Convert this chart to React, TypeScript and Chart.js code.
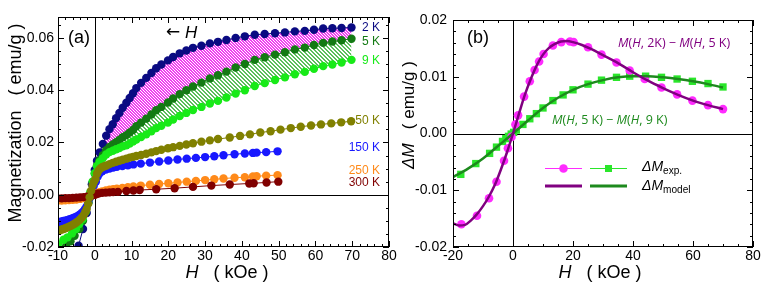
import React, { useEffect, useRef } from "react";
import { Chart, registerables } from "chart.js";
Chart.register(...registerables);

const FONT = "'Liberation Sans', Arial, sans-serif";
const FONT_B = "'Open Sans', 'Liberation Sans', sans-serif";

// ---------- Panel (a): M(H) curves ----------
const H_2K = [-4.4, -3.2, -2.2, -1.5, -0.8, 0, 0.6, 1.3, 2.2, 3.1, 4.0, 4.9, 5.8, 6.7, 7.6, 8.6, 9.5, 10.4, 11.3, 12.6, 14.0, 15.4, 16.7, 18.1, 19.9, 21.3, 23.1, 24.9, 26.7, 29.0, 31.3, 33.5, 35.8, 38.3, 40.8, 43.5, 46.2, 49.0, 51.7, 54.4, 57.1, 59.6, 62.1, 64.6, 67.1, 69.8];
const M_2K = [-0.0195, -0.0131, -0.0070, -0.0015, 0.0040, 0.0095, 0.0130, 0.0162, 0.0194, 0.0226, 0.0251, 0.0270, 0.0293, 0.0313, 0.0333, 0.0352, 0.0370, 0.0388, 0.0408, 0.0428, 0.0447, 0.0466, 0.0484, 0.0498, 0.0514, 0.0527, 0.0541, 0.0552, 0.0562, 0.0570, 0.0579, 0.0585, 0.0592, 0.0600, 0.0606, 0.0612, 0.0615, 0.0618, 0.0621, 0.0625, 0.0627, 0.0631, 0.0636, 0.0637, 0.0638, 0.0640];

const H_5K = [-7.8, -6.6, -5.5, -4.2, -3.2, -2.4, -1.7, -1.1, -0.5, 0, 0.6, 1.3, 2.2, 3.1, 4.0, 4.9, 5.8, 6.7, 7.6, 8.6, 9.5, 10.4, 11.3, 12.6, 14.0, 15.4, 16.7, 18.1, 19.9, 21.3, 23.1, 24.9, 26.7, 29.0, 31.3, 33.5, 35.8, 38.3, 40.8, 43.5, 46.2, 49.0, 51.7, 54.4, 57.1, 59.6, 62.1, 64.6, 67.1, 69.8];
const M_5K = [-0.0197, -0.0178, -0.0157, -0.0131, -0.0100, -0.0065, -0.0030, 0.0010, 0.0050, 0.0080, 0.0112, 0.0132, 0.0151, 0.0170, 0.0183, 0.0192, 0.0201, 0.0210, 0.0220, 0.0228, 0.0238, 0.0248, 0.0262, 0.0276, 0.0291, 0.0307, 0.0323, 0.0336, 0.0353, 0.0368, 0.0385, 0.0400, 0.0414, 0.0429, 0.0445, 0.0457, 0.0471, 0.0487, 0.0500, 0.0516, 0.0526, 0.0536, 0.0545, 0.0556, 0.0563, 0.0573, 0.0581, 0.0586, 0.0591, 0.0597];

const H_9K = [-10.0, -8.5, -7.4, -6.2, -5.1, -4.2, -3.3, -2.5, -1.8, -1.2, -0.6, 0, 0.6, 1.3, 2.2, 3.1, 4.0, 4.9, 5.8, 6.7, 7.6, 8.6, 9.5, 10.4, 11.3, 12.6, 14.0, 15.4, 16.7, 18.1, 19.9, 21.3, 23.1, 24.9, 26.7, 29.0, 31.3, 33.5, 35.8, 38.3, 40.8, 43.5, 46.2, 49.0, 51.7, 54.4, 57.1, 59.6, 62.1, 64.6, 67.1, 69.8];
const M_9K = [-0.0189, -0.0172, -0.0163, -0.0148, -0.0131, -0.0112, -0.0093, -0.0065, -0.0030, 0.0010, 0.0050, 0.0082, 0.0109, 0.0125, 0.0140, 0.0154, 0.0163, 0.0168, 0.0174, 0.0179, 0.0185, 0.0189, 0.0196, 0.0204, 0.0211, 0.0221, 0.0231, 0.0243, 0.0255, 0.0264, 0.0276, 0.0288, 0.0301, 0.0313, 0.0324, 0.0336, 0.0349, 0.0359, 0.0372, 0.0387, 0.0400, 0.0416, 0.0427, 0.0439, 0.0449, 0.0461, 0.0470, 0.0482, 0.0492, 0.0498, 0.0506, 0.0516];

const H_50K = [-10.1, -9.5, -9.0, -8.5, -8.0, -7.5, -7.0, -6.5, -6.0, -5.5, -5.0, -4.5, -4.0, -3.5, -3.0, -2.6, -2.2, -1.8, -1.4, -1.0, -0.6, -0.2, 0.2, 0.6, 1.0, 1.5, 2.0, 2.6, 3.2, 4.0, 4.9, 5.8, 6.7, 7.6, 8.6, 9.5, 10.4, 11.3, 12.6, 14.0, 15.4, 16.7, 18.1, 19.9, 21.3, 23.1, 24.9, 26.7, 29.0, 31.3, 33.5, 36.7, 39.5, 42.2, 45.0, 47.8, 50.5, 53.3, 56.0, 58.8, 61.5, 64.3, 67.0, 69.7];
const M_50K = [-0.0138, -0.0136, -0.0133, -0.0131, -0.0128, -0.0125, -0.0122, -0.0119, -0.0115, -0.0111, -0.0106, -0.0101, -0.0095, -0.0087, -0.0078, -0.0067, -0.0055, -0.0035, -0.0010, 0.0015, 0.0035, 0.0050, 0.0060, 0.0080, 0.0092, 0.0100, 0.0105, 0.0109, 0.0112, 0.0117, 0.0122, 0.0126, 0.0130, 0.0134, 0.0138, 0.0142, 0.0145, 0.0148, 0.0152, 0.0157, 0.0162, 0.0167, 0.0172, 0.0178, 0.0182, 0.0187, 0.0192, 0.0197, 0.0203, 0.0208, 0.0213, 0.0219, 0.0225, 0.0231, 0.0238, 0.0243, 0.0249, 0.0255, 0.0260, 0.0265, 0.0269, 0.0273, 0.0277, 0.0281];

const H_150K = [-10.1, -9.5, -9.0, -8.5, -8.0, -7.5, -7.0, -6.5, -6.0, -5.5, -5.0, -4.5, -4.0, -3.5, -3.0, -2.6, -2.2, -1.8, -1.3, -0.8, -0.3, 0.3, 0.8, 1.3, 2.0, 3.0, 4.0, 5.0, 6.0, 7.5, 9.0, 10.5, 12.5, 15.0, 17.5, 20.0, 22.5, 25.0, 27.5, 30.0, 32.5, 35.0, 38.0, 40.8, 43.0, 44.0, 46.6, 49.7];
const M_150K = [-0.0105, -0.0104, -0.0102, -0.0100, -0.0099, -0.0097, -0.0095, -0.0093, -0.0090, -0.0087, -0.0084, -0.0080, -0.0075, -0.0069, -0.0062, -0.0054, -0.0045, -0.0030, -0.0010, 0.0012, 0.0033, 0.0050, 0.0070, 0.0082, 0.0090, 0.0096, 0.0100, 0.0104, 0.0107, 0.0110, 0.0113, 0.0116, 0.0119, 0.0123, 0.0127, 0.0131, 0.0135, 0.0138, 0.0141, 0.0144, 0.0147, 0.0151, 0.0155, 0.0158, 0.0160, 0.0161, 0.0163, 0.0166];

const H_250K = [-10.1, -9.0, -8.0, -7.0, -6.0, -5.0, -4.0, -3.0, -2.0, -1.0, -0.3, 0.3, 0.8, 1.3, 2.0, 3.0, 4.0, 5.0, 6.0, 7.5, 9.0, 10.5, 12.5, 15.0, 17.5, 20.0, 22.5, 25.0, 27.5, 30.0, 32.5, 35.0, 38.0, 40.8, 43.0, 44.0, 46.6, 49.7];
const M_250K = [-0.0023, -0.0022, -0.0021, -0.0020, -0.0019, -0.0018, -0.0016, -0.0013, -0.0009, -0.0004, 0.0000, 0.0003, 0.0007, 0.0010, 0.0013, 0.0016, 0.0019, 0.0021, 0.0023, 0.0026, 0.0029, 0.0032, 0.0035, 0.0038, 0.0041, 0.0044, 0.0047, 0.0050, 0.0053, 0.0056, 0.0059, 0.0062, 0.0065, 0.0067, 0.0070, 0.0071, 0.0073, 0.0075];

const H_300K = [-10.1, -9.0, -8.0, -7.0, -6.0, -5.0, -4.0, -3.0, -2.0, -1.0, 0, 0.5, 1.0, 2.0, 3.0, 4.0, 5.0, 6.3, 8.6, 10.5, 12.2, 16.7, 21.7, 26.7, 31.7, 36.7, 42.0, 43.2, 46.7, 49.9];
const M_300K = [-0.0014, -0.0014, -0.0013, -0.0013, -0.0012, -0.0011, -0.0010, -0.0009, -0.0007, -0.0004, 0.0000, 0.0003, 0.0005, 0.0007, 0.0008, 0.0009, 0.0010, 0.0011, 0.0014, 0.0016, 0.0018, 0.0021, 0.0025, 0.0030, 0.0035, 0.0039, 0.0043, 0.0044, 0.0047, 0.0050];

const A_X_TICKS = [-10, 0, 10, 20, 30, 40, 50, 60, 70, 80];
const A_Y_TICKS = [-0.02, 0, 0.02, 0.04, 0.06];
const A_Y_LABELS = ["-0.02", "0.00", "0.02", "0.04", "0.06"];

// ---------- Panel (b): difference curves ----------
const DM1_H = [-17.2, -12.0, -8.0, -5.5, -3.0, -1.7, -0.5, 0.8, 1.7, 3.7, 5.6, 7.2, 8.7, 10.2, 13.3, 16.1, 19.0, 20.2, 25.0, 29.5, 34.5, 38.9, 43.9, 49.5, 54.7, 59.8, 65.0, 70.0];
const DM1 = [-0.0160, -0.0145, -0.0114, -0.0085, -0.0048, -0.0026, -0.0006, 0.0016, 0.0032, 0.0065, 0.0092, 0.0112, 0.0127, 0.0140, 0.0155, 0.0161, 0.0162, 0.0161, 0.0152, 0.0139, 0.0125, 0.0111, 0.0096, 0.0081, 0.0069, 0.0058, 0.0050, 0.0043];
const DM2_H = [-17.4, -12.4, -7.8, -5.5, -3.5, -2.4, -1.5, -0.6, 0.2, 1.1, 3.3, 5.6, 7.8, 10.0, 13.3, 16.7, 20.0, 25.0, 29.5, 34.5, 38.9, 44.2, 49.5, 54.7, 59.8, 65.0, 70.0];
const DM2 = [-0.0072, -0.0053, -0.0035, -0.0024, -0.0014, -0.0009, -0.0005, -0.0001, 0.0002, 0.0006, 0.0016, 0.0026, 0.0035, 0.0045, 0.0058, 0.0068, 0.0077, 0.0087, 0.0094, 0.0099, 0.0101, 0.0101, 0.0099, 0.0096, 0.0092, 0.0088, 0.0082];
const MOD1_H = [-20, -18, -16, -14, -12, -10, -8, -6, -4, -2, 0, 2, 4, 6, 8, 10, 12, 14, 16, 18, 20, 23, 26, 30, 35, 40, 45, 50, 55, 60, 65, 70];
const MOD1 = [-0.0158, -0.0162, -0.0161, -0.0153, -0.0142, -0.0128, -0.0111, -0.0090, -0.0063, -0.0033, 0.0000, 0.0035, 0.0069, 0.0097, 0.0121, 0.0139, 0.0151, 0.0158, 0.0162, 0.0163, 0.0161, 0.0156, 0.0149, 0.0138, 0.0124, 0.0108, 0.0093, 0.0080, 0.0068, 0.0058, 0.0050, 0.0043];
const MOD2_H = [-20, -15, -10, -5, 0, 5, 10, 15, 20, 25, 30, 35, 40, 45, 50, 55, 60, 65, 70];
const MOD2 = [-0.0077, -0.0062, -0.0044, -0.0022, 0.0000, 0.0023, 0.0045, 0.0063, 0.0077, 0.0087, 0.0094, 0.0099, 0.0101, 0.0101, 0.0099, 0.0096, 0.0092, 0.0087, 0.0081];

const B_X_TICKS = [-20, 0, 20, 40, 60, 80];
const B_Y_TICKS = [-0.02, -0.01, 0, 0.01, 0.02];
const B_Y_LABELS = ["-0.02", "-0.01", "0.00", "0.01", "0.02"];

// colours
const C = {
  k2: "#0a0a82", k5: "#137a13", k9: "#18ea18", k50: "#808000",
  k150: "#1818ff", k250: "#ff8a1a", k300: "#800000",
  mag: "#ff2bff", lime: "#2ae62a", purple: "#800080", dgreen: "#1d8a1d",
};

const pts = (H: number[], M: number[]) => H.map((h, i) => ({ x: h, y: M[i] }));

type Seg = { t: string; i?: boolean; s?: number; dy?: number; f?: string };
function rich(ctx: CanvasRenderingContext2D, segs: Seg[], x: number, y: number, size: number, color: string, align: "left" | "center" | "right", family = FONT) {
  ctx.save();
  ctx.fillStyle = color;
  ctx.textBaseline = "middle";
  ctx.textAlign = "left";
  const fontOf = (sg: Seg) => `${sg.i ? "italic " : ""}${(sg.s ?? 1) * size}px ${sg.f ?? family}`;
  let w = 0;
  for (const sg of segs) { ctx.font = fontOf(sg); w += ctx.measureText(sg.t).width; }
  let cx = align === "left" ? x : align === "center" ? x - w / 2 : x - w;
  for (const sg of segs) {
    ctx.font = fontOf(sg);
    ctx.fillText(sg.t, cx, y + (sg.dy ?? 0) * size);
    cx += ctx.measureText(sg.t).width;
  }
  ctx.restore();
}

function decor(cfg: { xMinor: number; xRatio: number; yMinor: number; yRatio: number; text: (ctx: CanvasRenderingContext2D) => void }) {
  return {
    id: "decor",
    beforeDatasetsDraw(chart: any) {
      const { ctx, chartArea: a, scales } = chart;
      const x0 = Math.round(scales.x.getPixelForValue(0)) + 0.5;
      const y0 = Math.round(scales.y.getPixelForValue(0)) + 0.5;
      ctx.save();
      ctx.strokeStyle = "#000";
      ctx.lineWidth = 1;
      ctx.beginPath();
      ctx.moveTo(x0, a.top); ctx.lineTo(x0, a.bottom);
      ctx.moveTo(a.left, y0); ctx.lineTo(a.right, y0);
      ctx.stroke();
      ctx.restore();
    },
    afterDatasetsDraw(chart: any) {
      const { ctx, chartArea: a, scales } = chart;
      const sx = scales.x, sy = scales.y;
      ctx.save();
      ctx.strokeStyle = "#000";
      ctx.lineWidth = 1;
      ctx.strokeRect(a.left + 0.5, a.top + 0.5, a.right - a.left - 1, a.bottom - a.top - 1);
      ctx.beginPath();
      for (let k = Math.ceil(sx.min / cfg.xMinor - 1e-6); k <= Math.floor(sx.max / cfg.xMinor + 1e-6); k++) {
        const p = Math.round(sx.getPixelForValue(k * cfg.xMinor)) + 0.5;
        const len = k % cfg.xRatio === 0 ? 6 : 3;
        ctx.moveTo(p, a.bottom); ctx.lineTo(p, a.bottom - len);
        ctx.moveTo(p, a.top); ctx.lineTo(p, a.top + len);
      }
      for (let k = Math.ceil(sy.min / cfg.yMinor - 1e-6); k <= Math.floor(sy.max / cfg.yMinor + 1e-6); k++) {
        const p = Math.round(sy.getPixelForValue(k * cfg.yMinor)) + 0.5;
        const len = k % cfg.yRatio === 0 ? 6 : 3;
        ctx.moveTo(a.left, p); ctx.lineTo(a.left + len, p);
        ctx.moveTo(a.right, p); ctx.lineTo(a.right - len, p);
      }
      ctx.stroke();
      ctx.restore();
    },
    afterDraw(chart: any) {
      cfg.text(chart.ctx);
    },
  };
}

// diagonal hatch: `on` of every `size` diagonals coloured
function hatch(color: string, size: number, on: number) {
  const c = document.createElement("canvas");
  c.width = size; c.height = size;
  const g = c.getContext("2d")!;
  g.fillStyle = color;
  for (let y = 0; y < size; y++)
    for (let x = 0; x < size; x++)
      if (((x - y) % size + size) % size < on) g.fillRect(x, y, 1, 1);
  return g.createPattern(c, "repeat")!;
}

function lineDs(H: number[], M: number[], color: string) {
  return {
    data: pts(H, M), borderColor: color, backgroundColor: color, borderWidth: 1,
    pointRadius: 4.2, pointHoverRadius: 4.2, pointBorderWidth: 0, pointBackgroundColor: color, fill: false, tension: 0,
  };
}

function configA(): any {
  const above = (H: number[], M: number[]) => pts(H, M).filter((p) => p.x >= 1);
  const fillBase = { borderColor: "rgba(0,0,0,0)", borderWidth: 0, pointRadius: 0, tension: 0 };
  return {
    type: "line",
    data: {
      datasets: [
        lineDs(H_50K, M_50K, C.k50),
        lineDs(H_300K, M_300K, C.k300),
        lineDs(H_250K, M_250K, C.k250),
        lineDs(H_150K, M_150K, C.k150),
        lineDs(H_9K, M_9K, C.k9),
        lineDs(H_5K, M_5K, C.k5),
        lineDs(H_2K, M_2K, C.k2),
        { ...fillBase, data: above(H_2K, M_2K), fill: "+1", backgroundColor: hatch("#f040f0", 3, 2) },
        { ...fillBase, data: above(H_5K, M_5K), fill: "+1", backgroundColor: hatch("#5cbf5c", 4, 2) },
        { ...fillBase, data: above(H_9K, M_9K), fill: false },
      ],
    },
    options: {
      responsive: false, animation: false, events: [],
      layout: { padding: { left: 0, right: 11, top: 17, bottom: 0 } },
      plugins: { legend: { display: false }, tooltip: { enabled: false }, filler: { drawTime: "beforeDatasetsDraw", propagate: false } },
      scales: {
        x: {
          type: "linear", min: -10, max: 80,
          grid: { display: false, drawTicks: false }, border: { display: false },
          afterBuildTicks: (s: any) => { s.ticks = A_X_TICKS.map((v) => ({ value: v })); },
          afterFit: (s: any) => { s.height = 36; },
          ticks: { font: { family: FONT, size: 14 }, color: "#000", padding: 1, maxRotation: 0, callback: (v: number) => String(v) },
        },
        y: {
          type: "linear", min: -0.02, max: 0.068,
          grid: { display: false, drawTicks: false }, border: { display: false },
          afterBuildTicks: (s: any) => { s.ticks = A_Y_TICKS.map((v) => ({ value: v })); },
          afterFit: (s: any) => { s.width = 58; },
          ticks: { font: { family: FONT, size: 14 }, color: "#000", padding: 4, callback: (v: number) => A_Y_LABELS[A_Y_TICKS.findIndex((t) => Math.abs(t - v) < 1e-9)] ?? "" },
        },
      },
    },
    plugins: [decor({
      xMinor: 2, xRatio: 5, yMinor: 0.005, yRatio: 4,
      text: (ctx) => {
        rich(ctx, [{ t: "(a)" }], 68, 38, 18, "#000", "left");
        rich(ctx, [{ t: "\u2190", f: "'DejaVu Sans', sans-serif" }, { t: " " }, { t: "H", i: true }], 166, 33, 17, "#000", "left");
        rich(ctx, [{ t: "2 K" }], 380, 28, 12, C.k2, "right");
        rich(ctx, [{ t: "5 K" }], 380, 42, 12, C.k5, "right");
        rich(ctx, [{ t: "9 K" }], 380, 61, 12, C.k9, "right");
        rich(ctx, [{ t: "50 K" }], 380, 121, 12, C.k50, "right");
        rich(ctx, [{ t: "150 K" }], 380, 148, 12, C.k150, "right");
        rich(ctx, [{ t: "250 K" }], 380, 171, 12, C.k250, "right");
        rich(ctx, [{ t: "300 K" }], 380, 183, 12, C.k300, "right");
        rich(ctx, [{ t: "H", i: true }, { t: "   ( kOe )" }], 227, 273, 18, "#000", "center");
        ctx.save();
        ctx.translate(16, 123);
        ctx.rotate(-Math.PI / 2);
        rich(ctx, [{ t: "Magnetization   ( emu/g )" }], 0, 0, 18, "#000", "center");
        ctx.restore();
      },
    })],
  };
}

function configB(): any {
  return {
    type: "line",
    data: {
      datasets: [
        { data: pts(MOD1_H, MOD1), borderColor: C.purple, borderWidth: 2.5, pointRadius: 0, fill: false, cubicInterpolationMode: "monotone" },
        { data: pts(MOD2_H, MOD2), borderColor: C.dgreen, borderWidth: 2.5, pointRadius: 0, fill: false, cubicInterpolationMode: "monotone" },
        { data: pts(DM1_H, DM1), showLine: false, pointRadius: 4.3, pointBorderWidth: 0, pointBackgroundColor: C.mag, borderColor: C.mag, fill: false },
        { data: pts(DM2_H, DM2), showLine: false, pointStyle: "rect", pointRadius: 5.2, pointBorderWidth: 0, pointBackgroundColor: C.lime, borderColor: C.lime, fill: false },
      ],
    },
    options: {
      responsive: false, animation: false, events: [],
      layout: { padding: { left: 0, right: 10, top: 20, bottom: 0 } },
      plugins: { legend: { display: false }, tooltip: { enabled: false } },
      scales: {
        x: {
          type: "linear", min: -20, max: 80,
          grid: { display: false, drawTicks: false }, border: { display: false },
          afterBuildTicks: (s: any) => { s.ticks = B_X_TICKS.map((v) => ({ value: v })); },
          afterFit: (s: any) => { s.height = 36; },
          ticks: { font: { family: FONT, size: 14 }, color: "#000", padding: 1, maxRotation: 0, callback: (v: number) => String(v) },
        },
        y: {
          type: "linear", min: -0.02, max: 0.02,
          grid: { display: false, drawTicks: false }, border: { display: false },
          afterBuildTicks: (s: any) => { s.ticks = B_Y_TICKS.map((v) => ({ value: v })); },
          afterFit: (s: any) => { s.width = 53; },
          ticks: { font: { family: FONT, size: 14 }, color: "#000", padding: 6, callback: (v: number) => B_Y_LABELS[B_Y_TICKS.findIndex((t) => Math.abs(t - v) < 1e-9)] ?? "" },
        },
      },
    },
    plugins: [decor({
      xMinor: 5, xRatio: 4, yMinor: 0.002, yRatio: 5,
      text: (ctx) => {
        rich(ctx, [{ t: "(b)" }], 67, 38, 18, "#000", "left");
        rich(ctx, [{ t: "M", i: true }, { t: "(" }, { t: "H", i: true }, { t: ", 2K) \u2212 " }, { t: "M", i: true }, { t: "(" }, { t: "H", i: true }, { t: ", 5 K)" }], 218, 43, 12.5, C.purple, "left", FONT_B);
        rich(ctx, [{ t: "M", i: true }, { t: "(" }, { t: "H", i: true }, { t: ", 5 K) \u2212 " }, { t: "M", i: true }, { t: "(" }, { t: "H", i: true }, { t: ", 9 K)" }], 152, 120, 12.5, C.dgreen, "left", FONT_B);
        // legend
        ctx.save();
        ctx.lineWidth = 1;
        ctx.strokeStyle = C.mag;
        ctx.beginPath(); ctx.moveTo(145, 168.5); ctx.lineTo(182, 168.5); ctx.stroke();
        ctx.fillStyle = C.mag;
        ctx.beginPath(); ctx.arc(163.5, 168.5, 4.3, 0, Math.PI * 2); ctx.fill();
        ctx.strokeStyle = C.lime;
        ctx.beginPath(); ctx.moveTo(190, 168.5); ctx.lineTo(227, 168.5); ctx.stroke();
        ctx.fillStyle = C.lime;
        ctx.fillRect(205, 165, 7, 7);
        ctx.lineWidth = 3;
        ctx.strokeStyle = C.purple;
        ctx.beginPath(); ctx.moveTo(145, 186); ctx.lineTo(182, 186); ctx.stroke();
        ctx.strokeStyle = C.dgreen;
        ctx.beginPath(); ctx.moveTo(190, 186); ctx.lineTo(227, 186); ctx.stroke();
        ctx.restore();
        rich(ctx, [{ t: "\u0394M", i: true }, { t: "exp.", s: 0.72, dy: 0.3 }], 242, 167, 14, "#000", "left");
        rich(ctx, [{ t: "\u0394M", i: true }, { t: "model", s: 0.72, dy: 0.3 }], 242, 186, 14, "#000", "left");
        rich(ctx, [{ t: "H", i: true }, { t: "   ( kOe )" }], 200, 273, 18, "#000", "center");
        ctx.save();
        ctx.translate(9, 115);
        ctx.rotate(-Math.PI / 2);
        rich(ctx, [{ t: "\u0394M", i: true }, { t: "   ( emu/g )" }], 0, 0, 17, "#000", "center");
        ctx.restore();
      },
    })],
  };
}

export default function App() {
  const refA = useRef<HTMLCanvasElement>(null);
  const refB = useRef<HTMLCanvasElement>(null);
  useEffect(() => {
    const a = new Chart(refA.current!, configA());
    const b = new Chart(refB.current!, configB());
    return () => { a.destroy(); b.destroy(); };
  }, []);
  return (
    <div style={{ position: "absolute", left: 0, top: 0, width: 763, height: 283, background: "#fff" }}>
      <canvas ref={refA} width={400} height={283} style={{ position: "absolute", left: 0, top: 0, width: 400, height: 283 }} />
      <canvas ref={refB} width={363} height={283} style={{ position: "absolute", left: 400, top: 0, width: 363, height: 283 }} />
    </div>
  );
}
